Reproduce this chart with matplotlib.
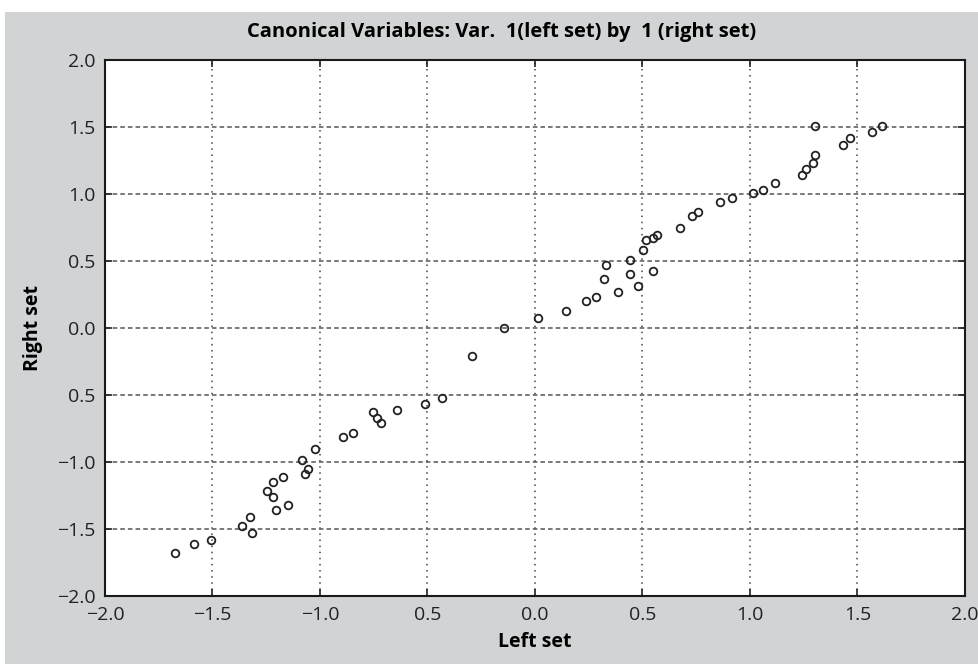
import numpy as np
import matplotlib.pyplot as plt
from matplotlib.patches import Rectangle

plt.rcParams['font.family'] = ['Open Sans', 'DejaVu Sans']

# canonical scores, first pair of variables
left_set = [-1.674, -1.585, -1.508, -1.364, -1.326, -1.318, -1.206, -1.147,
            -1.248, -1.217, -1.217, -1.171, -1.070, -1.054, -1.085, -1.023,
            -0.892, -0.845, -0.755, -0.736, -0.716, -0.643, -0.512, -0.434,
            -0.292, -0.144, 0.016, 0.144, 0.237, 0.282, 0.321, 0.330,
            0.385, 0.442, 0.478, 0.443, 0.547, 0.504, 0.516, 0.550,
            0.566, 0.674, 0.732, 0.760, 0.860, 0.915, 1.016, 1.062,
            1.116, 1.240, 1.260, 1.294, 1.302, 1.302, 1.434, 1.465,
            1.566, 1.612]
right_set = [-1.68, -1.61, -1.58, -1.48, -1.41, -1.53, -1.36, -1.32,
             -1.22, -1.26, -1.15, -1.11, -1.09, -1.05, -0.985, -0.90,
             -0.816, -0.78, -0.63, -0.67, -0.71, -0.61, -0.567, -0.525,
             -0.208, 0.002, 0.072, 0.13, 0.20, 0.234, 0.363, 0.47,
             0.271, 0.403, 0.316, 0.507, 0.425, 0.582, 0.657, 0.669,
             0.694, 0.744, 0.838, 0.868, 0.943, 0.972, 1.005, 1.03,
             1.085, 1.14, 1.19, 1.229, 1.29, 1.507, 1.366, 1.416,
             1.46, 1.507]

ticks = [-2.0, -1.5, -1.0, -0.5, 0.0, 0.5, 1.0, 1.5, 2.0]
x_ticklabels = ['\u22122.0', '\u22121.5', '\u22121.0', '0.5', '0.0', '0.5', '1.0', '1.5', '2.0']
y_ticklabels = ['\u22122.0', '\u22121.5', '\u22121.0', '0.5', '0.0', '0.5', '1.0', '1.5', '2.0']

fig = plt.figure(figsize=(9.79, 6.64), dpi=100, facecolor='white')
fig.patches.append(Rectangle((5 / 979, 0), 1, 1 - 12 / 664, transform=fig.transFigure,
                             facecolor='#d1d3d4', edgecolor='none', zorder=-5))

ax = fig.add_axes([105 / 979, 68 / 664, 860 / 979, 536 / 664])
ax.set_zorder(1)
ax.set_facecolor('white')

ax.plot(left_set, right_set, linestyle='none', marker='o', markersize=5.5,
        markerfacecolor='none', markeredgecolor='#222222', markeredgewidth=1.3)

ax.set_xlim(-2, 2)
ax.set_ylim(-2, 2)
ax.set_xticks(ticks)
ax.set_yticks(ticks)
ax.set_xticklabels(x_ticklabels)
ax.set_yticklabels(y_ticklabels)
ax.tick_params(direction='in', length=5, width=1.2, labelsize=14, pad=7,
               top=True, right=True, colors='#222222')

ax.xaxis.grid(True, linestyle=(0, (1, 3)), color='#444444', linewidth=1.1)
ax.yaxis.grid(True, linestyle=(0, (3, 2)), color='#555555', linewidth=1.1)
for s in ax.spines.values():
    s.set_linewidth(1.5)
    s.set_color('#1a1a1a')

fig.text(0.512, 1 - 32 / 664, 'Canonical Variables: Var.  1(left set) by  1 (right set)',
         fontsize=14.5, fontweight='bold', ha='center', va='center')
ax.set_xlabel('Left set', fontsize=14, fontweight='bold', labelpad=6)
ax.set_ylabel('Right set', fontsize=14, fontweight='bold', labelpad=10)

fig.savefig('out.png', dpi=100, facecolor=fig.get_facecolor())
